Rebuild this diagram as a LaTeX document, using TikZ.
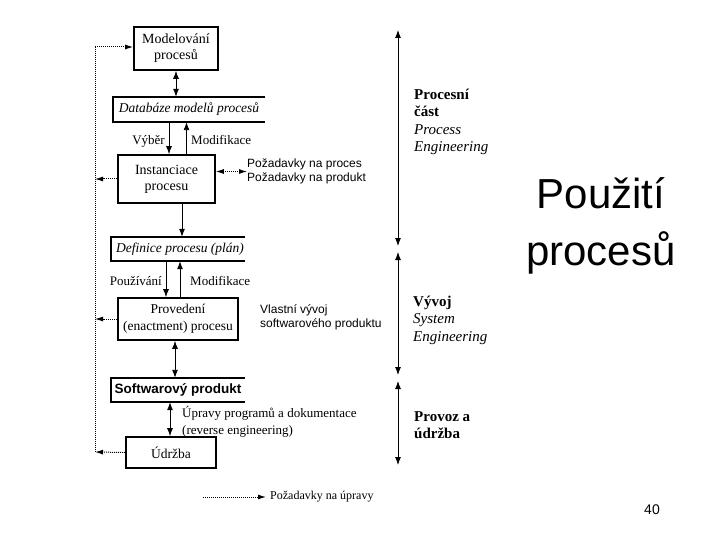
\documentclass[tikz,border=0pt]{standalone}
\usepackage{fontspec}
\setmainfont{Liberation Serif}
\setsansfont{Liberation Sans}
\usetikzlibrary{arrows.meta}
\tikzset{
  mytip/.tip={Latex[length=8pt,width=6pt]},
  dtip/.tip={Latex[length=8pt,width=5pt]}
}
\begin{document}
\begin{tikzpicture}[x=1pt,y=-1pt,
  box/.style={draw,line width=1.6pt,inner sep=0pt,align=center,font=\fontsize{14}{16}\selectfont},
  obox/.style={inner sep=0pt,align=center},
  openline/.style={line width=1.6pt},
  lbl/.style={inner sep=0pt,font=\fontsize{13}{15}\selectfont},
  sans/.style={inner sep=0pt,align=left,font=\sffamily\fontsize{12}{13.5}\selectfont},
  conn/.style={line width=0.9pt,-mytip},
  dconn/.style={line width=0.9pt,mytip-mytip},
  dot/.style={line width=1pt,densely dotted},
  dotarr/.style={line width=1pt,densely dotted,-dtip},
  side/.style={inner sep=0pt,align=left,font=\fontsize{15}{17.5}\selectfont}
]
\useasboundingbox (0,0) rectangle (720,540);

% boxes
\node[box,minimum width=84pt,minimum height=43pt] (mod) at (176,48.5) {Modelování\\procesů};
\node[obox,minimum width=152pt,minimum height=25pt,font=\itshape\fontsize{13.5}{15}\selectfont] (db) at (189,109.5) {Databáze modelů procesů};
\draw[openline] (db.north east) -- (db.north west) -- (db.south west) -- (db.south east);
\node[box,minimum width=97pt,minimum height=48pt] (inst) at (166.5,179) {Instanciace\\procesu};
\node[obox,minimum width=134pt,minimum height=24pt,font=\itshape\fontsize{13.5}{15}\selectfont] (def) at (178,249) {\hspace*{4pt}Definice procesu (plán)};
\draw[openline] (def.north east) -- (def.north west) -- (def.south west) -- (def.south east);
\node[box,minimum width=120pt,minimum height=42pt,font=\fontsize{13.5}{17}\selectfont] (prov) at (178,319) {Provedení\\(enactment) procesu};
\node[obox,minimum width=134pt,minimum height=24pt,font=\sffamily\bfseries\fontsize{13.5}{15}\selectfont] (sw) at (178,390) {Softwarový produkt};
\draw[openline] (sw.north east) -- (sw.north west) -- (sw.south west) -- (sw.south east);
\node[box,minimum width=90pt,minimum height=31pt,font=\fontsize{13.5}{15}\selectfont] (udr) at (171,452.5) {Údržba};

% vertical connectors
\draw[dconn] (mod.south) -- (mod.south |- db.north);
\draw[conn] ([xshift=-20pt]db.south) -- ([xshift=-20pt]db.south |- inst.north);
\draw[conn] ([xshift=20pt]inst.north) -- ([xshift=20pt]inst.north |- db.south);
\node[lbl,anchor=base east] (vyb) at (165,145) {Výběr};
\node[lbl,anchor=base west] (mod1) at (191,145) {Modifikace};
\draw[conn] ([xshift=15.5pt]inst.south) -- ([xshift=15.5pt]inst.south |- def.north);
\draw[conn] ([xshift=-12pt]def.south) -- ([xshift=-12pt]def.south |- prov.north);
\draw[conn] ([xshift=2pt]prov.north) -- ([xshift=2pt]prov.north |- def.south);
\node[lbl,anchor=base east] (pouz) at (162,285) {Používání};
\node[lbl,anchor=base west] (mod2) at (190,285) {Modifikace};
\draw[dconn] ([xshift=-3pt]prov.south) -- ([xshift=-3pt]prov.south |- sw.north);
\draw[dconn] ([xshift=-1pt]udr.north) -- ([xshift=-1pt]udr.north |- sw.south);
\node[lbl,anchor=west,align=left,font=\fontsize{13}{17}\selectfont] (upr) at (182,421.5) {Úpravy programů a dokumentace\\(reverse engineering)};

% side texts
\node[sans,anchor=west] (pz) at (247,171.5) {Požadavky na proces\\Požadavky na produkt};
\draw[line width=1pt,densely dotted,dtip-dtip] (inst.east |- pz.west) -- (pz.west);
\node[sans,anchor=west] (vv) at (260,317.5) {Vlastní vývoj\\softwarového produktu};

% dotted feedback bus
\coordinate (bt) at (95,47);
\coordinate (bb) at (95,452);
\draw[dot] (bt) -- (bb);
\draw[dotarr] (bt) -- (mod.west |- bt);
\draw[dotarr] (inst.west) -- (inst.west -| bt);
\draw[dotarr] (prov.west) -- (prov.west -| bt);
\draw[dotarr] (udr.west) -- (bb);

% legend
\coordinate (lg1) at (203,497);
\node[lbl,anchor=west,font=\fontsize{12}{14}\selectfont] (lgt) at (270,497) {Požadavky na úpravy};
\coordinate (lg2) at (266,497);
\draw[dotarr] (lg1) -- (lg2);

% right phase arrows
\coordinate (p1a) at (398,30);
\coordinate (p1b) at (398,246);
\coordinate (p2a) at (398,252);
\coordinate (p2b) at (398,375);
\coordinate (p3a) at (398,381);
\coordinate (p3b) at (398,465);
\draw[dconn] (p1a) -- (p1b);
\draw[dconn] (p2a) -- (p2b);
\draw[dconn] (p3a) -- (p3b);
\node[side,anchor=west] (ph1) at (414,122) {\textbf{Procesní}\\\textbf{část}\\\textit{Process}\\\textit{Engineering}};
\node[side,anchor=west] (ph2) at (413,320) {\textbf{Vývoj}\\\textit{System}\\\textit{Engineering}};
\node[side,anchor=west] (ph3) at (414,425) {\textbf{Provoz a}\\\textbf{údržba}};

% title
\node[inner sep=0pt,align=center,font=\sffamily\fontsize{42}{57}\selectfont] (title) at (601,226) {Použití\\procesů};
\node[inner sep=0pt,font=\sffamily\fontsize{14}{16}\selectfont] (num) at (652,510) {40};
\end{tikzpicture}
\end{document}
